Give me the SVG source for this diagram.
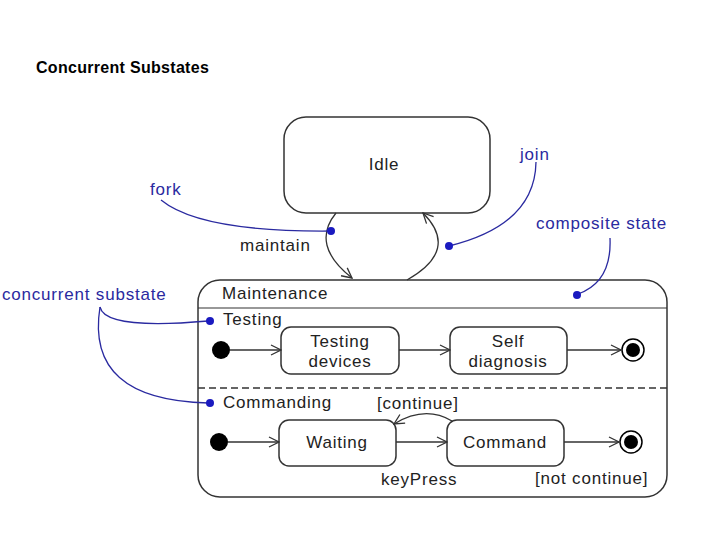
<svg xmlns="http://www.w3.org/2000/svg" width="720" height="540" viewBox="0 0 720 540">
<style>
text{font-family:"Liberation Sans",Arial,sans-serif;font-size:17px;letter-spacing:0.8px;fill:#222}
.b{fill:#2a2aa0}
.st{fill:#fff;stroke:#333;stroke-width:1.5}
.ln{fill:none;stroke:#333;stroke-width:1.3}
.bl{fill:none;stroke:#2a2aa0;stroke-width:1.3}
.dot{fill:#1a1ac0}
</style>
<defs>
<marker id="a" markerWidth="12" markerHeight="12" refX="11" refY="6" orient="auto" markerUnits="userSpaceOnUse"><path d="M1,1 L11,6 L1,11" fill="none" stroke="#333" stroke-width="1.3"/></marker>
</defs>
<rect width="720" height="540" fill="#fff"/>
<text x="36" y="73" style="font-weight:bold;font-size:16px;letter-spacing:0.3px;fill:#000">Concurrent Substates</text>
<g id="idle"><rect class="st" x="284" y="117" width="206" height="96" rx="22"/><text x="384" y="170" text-anchor="middle">Idle</text></g>
<g id="maintenance"><rect class="st" x="198" y="280" width="469" height="217" rx="22"/>
<text x="222" y="299">Maintenance</text>
<line x1="198" y1="308" x2="667" y2="308" stroke="#333" stroke-width="1.2"/>
<line x1="198" y1="388" x2="667" y2="388" stroke="#333" stroke-width="1.5" stroke-dasharray="7,4"/>
<text x="223" y="325">Testing</text>
<text x="223" y="408">Commanding</text></g>
<g id="init1"><circle cx="221" cy="350" r="9" fill="#000"/></g>
<g id="testdev"><rect class="st" x="281" y="327" width="118" height="47" rx="10"/><text x="340" y="347" text-anchor="middle">Testing</text><text x="340" y="367" text-anchor="middle">devices</text></g>
<g id="selfdiag"><rect class="st" x="450" y="327" width="117" height="47" rx="10"/><text x="508" y="347" text-anchor="middle">Self</text><text x="508" y="367" text-anchor="middle">diagnosis</text></g>
<g id="final1"><circle cx="633" cy="350" r="11" fill="#fff" stroke="#000" stroke-width="1.5"/><circle cx="633" cy="350" r="7" fill="#000"/></g>
<g id="init2"><circle cx="219" cy="442" r="9" fill="#000"/></g>
<g id="waiting"><rect class="st" x="279" y="420" width="117" height="46" rx="10"/><text x="337" y="448" text-anchor="middle">Waiting</text></g>
<g id="command"><rect class="st" x="447" y="420" width="117" height="46" rx="10"/><text x="505" y="448" text-anchor="middle">Command</text></g>
<g id="final2"><circle cx="631" cy="442" r="11" fill="#fff" stroke="#000" stroke-width="1.5"/><circle cx="631" cy="442" r="7" fill="#000"/></g>
<g id="connectors">
<path class="ln" d="M336,213 Q310,245 352,278" marker-end="url(#a)"/>
<path class="ln" d="M407,280 Q460,250 423,213" marker-end="url(#a)"/>
<line class="ln" x1="230" y1="350" x2="281" y2="350" marker-end="url(#a)"/>
<line class="ln" x1="399" y1="350" x2="450" y2="350" marker-end="url(#a)"/>
<line class="ln" x1="567" y1="350" x2="621" y2="350" marker-end="url(#a)"/>
<line class="ln" x1="228" y1="442" x2="279" y2="442" marker-end="url(#a)"/>
<line class="ln" x1="396" y1="442" x2="447" y2="442" marker-end="url(#a)"/>
<line class="ln" x1="564" y1="442" x2="619" y2="442" marker-end="url(#a)"/>
<path class="ln" d="M452,421 Q425,405 394,424" marker-end="url(#a)"/>
<path class="bl" d="M161,200 Q200,232 330,231"/>
<path class="bl" d="M536,162 Q535,225 449,246"/>
<path class="bl" d="M610,238 Q612,282 578,294"/>
<path class="bl" d="M100,307 Q105,330 208,321"/>
<path class="bl" d="M100,307 Q85,400 208,403"/>
<circle class="dot" cx="331" cy="231" r="4"/>
<circle class="dot" cx="449" cy="246" r="4"/>
<circle class="dot" cx="577" cy="295" r="4"/>
<circle class="dot" cx="210" cy="321" r="4"/>
<circle class="dot" cx="210" cy="403" r="4"/>
</g>
<text x="240" y="251">maintain</text>
<text x="377" y="409">[continue]</text>
<text x="381" y="485">keyPress</text>
<text x="535" y="484">[not continue]</text>
<text class="b" x="150" y="195">fork</text>
<text class="b" x="520" y="160">join</text>
<text class="b" x="536" y="229">composite state</text>
<text class="b" x="2" y="300">concurrent substate</text>
</svg>
